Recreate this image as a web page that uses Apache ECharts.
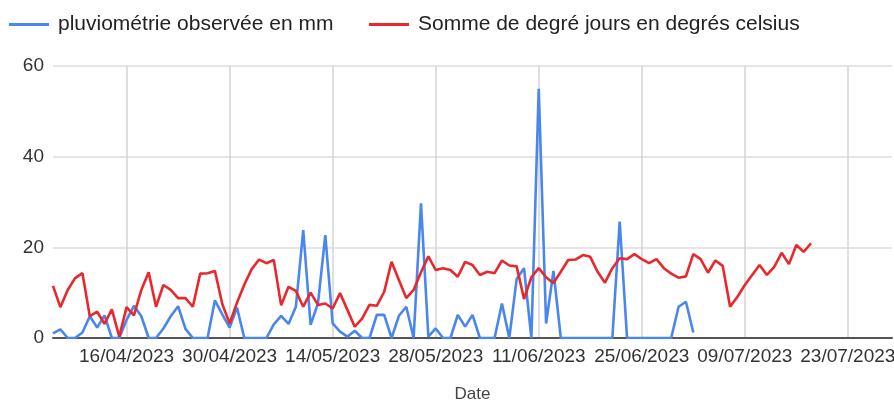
<!DOCTYPE html>
<html>
<head>
<meta charset="utf-8">
<script src="https://cdn.jsdelivr.net/npm/echarts@6/dist/echarts.min.js"></script>
<style>html,body{margin:0;padding:0;background:#fff}#c{width:894px;height:401px}</style>
</head>
<body>
<div id="c"></div>
<script>
// Axis domain: daily dates from 06/04/2023 to 29/07/2023
var startDate = '2023-04-06';
var dayCount = 115;
var tickLabels = ['16/04/2023','30/04/2023','14/05/2023','28/05/2023','11/06/2023','25/06/2023','09/07/2023','23/07/2023'];
var yTicks = [0, 20, 40, 60];

// Series values (one per day from 06/04/2023)
var pluvio = [1.0,1.9,0,0,1.2,4.8,2.3,5.0,0,0,
  4.0,7.1,4.8,0,0,2.1,4.8,7.0,2.0,0,
  0,0,8.3,5.2,2.3,6.7,0,0,0,0,
  3.0,4.9,3.1,6.9,23.8,2.9,7.6,22.7,3.2,1.4,
  0.3,1.6,0,0,5.1,5.1,0,4.9,6.9,0,
  29.7,0.3,2.1,0,0,5.1,2.5,5.1,0,0,
  0,7.6,0,13.0,15.4,0,55,3.2,14.8,0,
  0,0,0,0,0,0,0,25.7,0,0,
  0,0,0,0,0,6.9,8.0,1.2];
var degreJours = [11.5,6.8,10.6,13.2,14.3,4.8,5.8,3.1,6.3,0.3,
  6.8,5.0,10.6,14.5,6.9,11.7,10.6,8.8,8.8,6.9,
  14.2,14.3,14.8,7.5,3.2,7.8,11.8,15.2,17.3,16.5,
  17.2,7.2,11.3,10.4,6.9,10.0,7.3,7.6,6.5,9.9,
  6.2,2.5,4.3,7.3,7.1,10.2,16.8,12.8,8.8,10.6,
  14.5,18.0,15.0,15.4,15.0,13.5,16.8,16.1,13.9,14.6,
  14.3,17.1,16.0,15.8,8.6,13.4,15.4,13.4,12.1,14.6,
  17.2,17.3,18.3,17.9,14.6,12.2,15.4,17.6,17.4,18.5,
  17.4,16.5,17.4,15.4,14.2,13.3,13.6,18.5,17.4,14.4,
  17.1,15.9,6.9,9.1,11.7,13.9,16.1,13.9,15.7,18.8,
  16.3,20.5,19.0,20.9];

var seriesNames = ['pluviométrie observée en mm', 'Somme de degré jours en degrés celsius'];
var seriesColors = ['#4a86f0', '#e8282c'];

function pad(n){return (n<10?'0':'')+n;}
var dates = [];
var d0 = new Date(startDate + 'T12:00:00Z');
for (var i = 0; i < dayCount; i++) {
  var d = new Date(d0.getTime() + i * 86400000);
  dates.push(pad(d.getUTCDate()) + '/' + pad(d.getUTCMonth() + 1) + '/' + d.getUTCFullYear());
}
function isTick(idx, val) { return tickLabels.indexOf(dates[idx]) >= 0; }

var legendStyle = {
  top: 9,
  itemWidth: 40, itemHeight: 3,
  icon: 'rect',
  textStyle: {fontSize: 21, color: '#222', padding: [0, 0, 0, 4]}
};

var chart = echarts.init(document.getElementById('c'), null, {renderer: 'canvas'});
chart.setOption({
  animation: false,
  textStyle: {fontFamily: 'Liberation Sans, Arial, sans-serif'},
  legend: [
    Object.assign({left: 4, data: [seriesNames[0]]}, legendStyle),
    Object.assign({left: 364, data: [seriesNames[1]]}, legendStyle)
  ],
  grid: {left: 53, right: 2, top: 66, bottom: 63, outerBoundsMode: 'none', containLabel: false},
  xAxis: {
    type: 'category',
    data: dates,
    boundaryGap: false,
    name: 'Date', nameLocation: 'middle', nameGap: 48,
    nameTextStyle: {fontSize: 17, color: '#444'},
    axisLine: {lineStyle: {color: '#555', width: 2}},
    axisTick: {show: false},
    axisLabel: {interval: isTick, fontSize: 19, color: '#333', margin: 9,
      formatter: function(v){ return tickLabels.indexOf(v) >= 0 ? v : ''; }},
    splitLine: {show: true, interval: isTick, lineStyle: {color: '#d4d4d4', width: 1.5}}
  },
  yAxis: {
    type: 'value', min: 0, max: 60, interval: 20,
    axisLine: {show: false}, axisTick: {show: false},
    axisLabel: {fontSize: 19, color: '#333', margin: 9},
    splitLine: {lineStyle: {color: '#dcdcdc', width: 1.5}}
  },
  series: [
    {name: seriesNames[0], type: 'line', data: pluvio, showSymbol: false, symbol: 'none',
     lineStyle: {color: seriesColors[0], width: 2.6}, itemStyle: {color: seriesColors[0]}},
    {name: seriesNames[1], type: 'line', data: degreJours, showSymbol: false, symbol: 'none',
     lineStyle: {color: seriesColors[1], width: 2.6}, itemStyle: {color: seriesColors[1]}}
  ]
});
</script>
</body>
</html>
